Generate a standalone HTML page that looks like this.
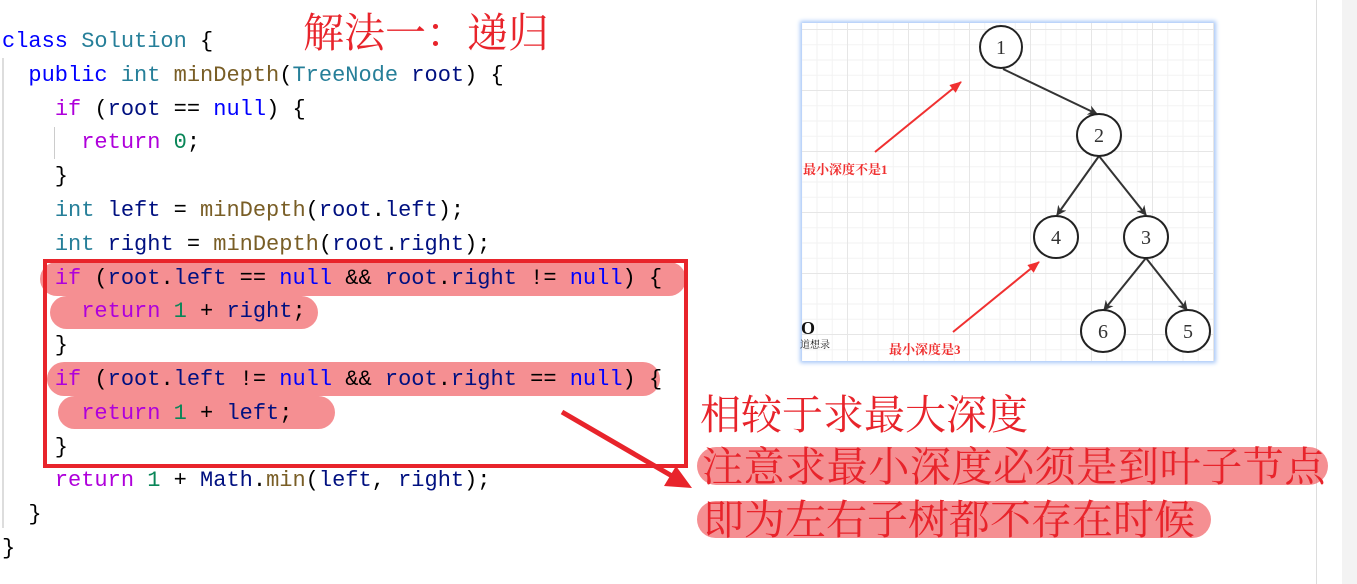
<!DOCTYPE html>
<html><head><meta charset="utf-8"><style>
body{margin:0;width:1357px;height:584px;background:#fff;position:relative;overflow:hidden;font-family:"Liberation Mono",monospace}
.code{position:absolute;left:2px;top:25px;font-size:22px;line-height:33.8px;white-space:pre;color:#000;z-index:2}
.k{color:#0000ff}.t{color:#267f99}.f{color:#795e26}.c{color:#af00db}.v{color:#001080}.n{color:#098658}
.hl{position:absolute;background:rgba(240,90,95,0.68);border-radius:18px;z-index:1}
.cn{position:absolute;color:#e8242b;font-family:"Liberation Serif","Noto Serif CJK SC",serif;white-space:nowrap;z-index:3}
</style></head><body>
<div style="position:absolute;left:1316px;top:0;width:1px;height:584px;background:#ddd"></div>
<div style="position:absolute;left:1342px;top:0;width:15px;height:584px;background:#f3f3f3"></div>
<div style="position:absolute;left:2px;top:58px;width:2px;height:470px;background:#ddd"></div>
<div style="position:absolute;left:54px;top:127px;width:1px;height:32px;background:#ccc"></div>
<div class="hl" style="left:40px;top:262px;width:646px;height:34px"></div>
<div class="hl" style="left:50px;top:296px;width:268px;height:33px"></div>
<div class="hl" style="left:47px;top:362px;width:613px;height:34px"></div>
<div class="hl" style="left:58px;top:396px;width:277px;height:33px"></div>
<div class="code"><span class="k">class</span> <span class="t">Solution</span> {
  <span class="k">public</span> <span class="t">int</span> <span class="f">minDepth</span>(<span class="t">TreeNode</span> <span class="v">root</span>) {
    <span class="c">if</span> (<span class="v">root</span> == <span class="k">null</span>) {
      <span class="c">return</span> <span class="n">0</span>;
    }
    <span class="t">int</span> <span class="v">left</span> = <span class="f">minDepth</span>(<span class="v">root</span>.<span class="v">left</span>);
    <span class="t">int</span> <span class="v">right</span> = <span class="f">minDepth</span>(<span class="v">root</span>.<span class="v">right</span>);
    <span class="c">if</span> (<span class="v">root</span>.<span class="v">left</span> == <span class="k">null</span> &amp;&amp; <span class="v">root</span>.<span class="v">right</span> != <span class="k">null</span>) {
      <span class="c">return</span> <span class="n">1</span> + <span class="v">right</span>;
    }
    <span class="c">if</span> (<span class="v">root</span>.<span class="v">left</span> != <span class="k">null</span> &amp;&amp; <span class="v">root</span>.<span class="v">right</span> == <span class="k">null</span>) {
      <span class="c">return</span> <span class="n">1</span> + <span class="v">left</span>;
    }
    <span class="c">return</span> <span class="n">1</span> + <span class="v">Math</span>.<span class="f">min</span>(<span class="v">left</span>, <span class="v">right</span>);
  }
}</div>
<div style="position:absolute;left:43px;top:259px;width:637px;height:201px;border:4px solid #e8242b;z-index:3"></div>
<svg style="position:absolute;left:0;top:0;z-index:4" width="1357" height="584">
<line x1="562" y1="412" x2="672" y2="476" stroke="#e8242b" stroke-width="5"/>
<polygon points="692,488 664,486 676,466" fill="#e8242b"/>
</svg>
<div class="cn" style="left:303px;top:9px;font-size:41px;line-height:48px">解法一：递归</div>
<div class="hl" style="left:697px;top:447px;width:631px;height:38px;border-radius:19px"></div>
<div class="hl" style="left:697px;top:501px;width:514px;height:37px;border-radius:19px"></div>
<div class="cn" style="left:700px;top:391px;font-size:41px;line-height:48px">相较于求最大深度</div>
<div class="cn" style="left:702px;top:443px;font-size:41px;line-height:48px;letter-spacing:0.6px">注意求最小深度必须是到叶子节点</div>
<div class="cn" style="left:703px;top:496px;font-size:41px;line-height:48px">即为左右子树都不存在时候</div>
<div style="position:absolute;left:802px;top:23px;width:412px;height:338px;box-shadow:0 0 4px 2px #a8c8f8;background-color:#fff;background-image:linear-gradient(#e6e6e6 1px,transparent 1px),linear-gradient(90deg,#e6e6e6 1px,transparent 1px),linear-gradient(#f2f2f2 1px,transparent 1px),linear-gradient(90deg,#f2f2f2 1px,transparent 1px);background-size:61px 61px,61px 61px,15.25px 15.25px,15.25px 15.25px;background-position:-4px 6px,-16px 0,-4px 6px,-16px 0"></div>
<svg style="position:absolute;left:0;top:0;z-index:5" width="1357" height="584" font-family="Liberation Serif,serif">
<defs><marker id="a" markerWidth="10" markerHeight="10" refX="9" refY="5" orient="auto" markerUnits="userSpaceOnUse"><path d="M0,0 L10,5 L0,10 L3,5z" fill="#333"/></marker>
<marker id="r" markerWidth="12" markerHeight="10" refX="11" refY="5" orient="auto" markerUnits="userSpaceOnUse"><path d="M0,0 L12,5 L0,10z" fill="#f03030"/></marker></defs>
<g stroke="#333" stroke-width="2" marker-end="url(#a)">
<line x1="1003" y1="69" x2="1097" y2="114"/>
<line x1="1099" y1="156" x2="1057" y2="215"/>
<line x1="1099" y1="156" x2="1146" y2="215"/>
<line x1="1146" y1="258" x2="1104" y2="310"/>
<line x1="1146" y1="258" x2="1187" y2="310"/>
</g>
<g stroke="#f03030" stroke-width="2" marker-end="url(#r)">
<line x1="875" y1="152" x2="961" y2="82"/>
<line x1="953" y1="332" x2="1039" y2="262"/>
</g>
<g fill="#fff" stroke="#222" stroke-width="2">
<ellipse cx="1001" cy="47" rx="21" ry="21"/><ellipse cx="1099" cy="135" rx="22" ry="21"/>
<ellipse cx="1056" cy="237" rx="22" ry="21"/><ellipse cx="1146" cy="237" rx="22" ry="21"/>
<ellipse cx="1103" cy="331" rx="22" ry="21"/><ellipse cx="1188" cy="331" rx="22" ry="21"/>
</g>
<g font-size="20" fill="#333" text-anchor="middle">
<text x="1001" y="54">1</text><text x="1099" y="142">2</text><text x="1056" y="244">4</text>
<text x="1146" y="244">3</text><text x="1103" y="338">6</text><text x="1188" y="338">5</text>
</g>
<g font-size="13" fill="#f03030" font-weight="bold" font-family="Liberation Serif,Noto Serif CJK SC,serif">
<text x="803" y="174">最小深度不是1</text><text x="889" y="354">最小深度是3</text>
</g>
<text x="801" y="334" font-size="18" font-weight="bold" fill="#111">O</text>
<text x="800" y="348" font-size="10" fill="#222" font-family="Noto Serif CJK SC,serif">道想录</text>
</svg>
</body></html>
